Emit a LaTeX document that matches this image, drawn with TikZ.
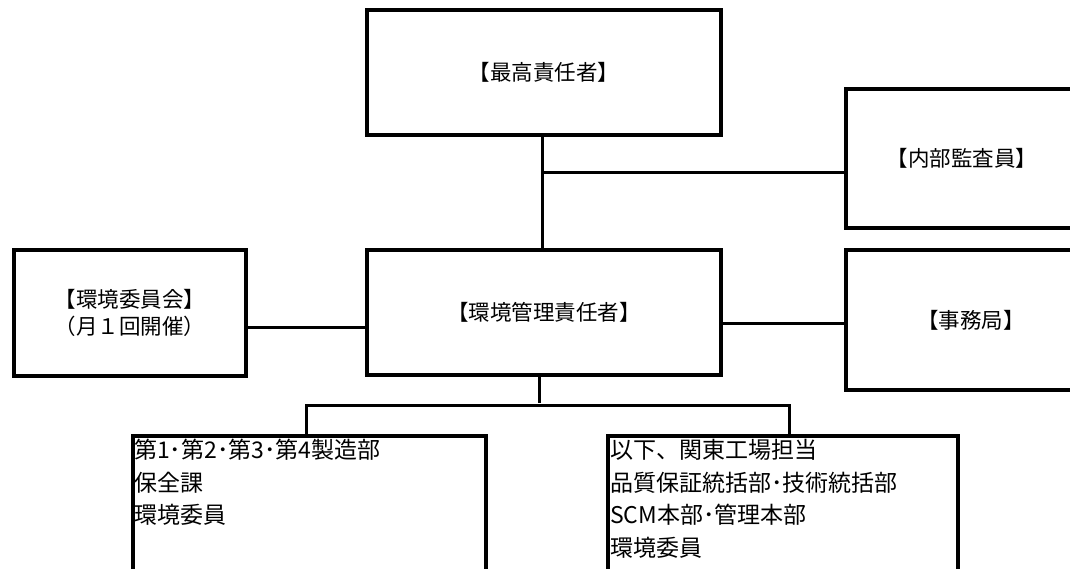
\documentclass[tikz,border=0pt]{standalone}
\usepackage{fontspec}
\setmainfont{Noto Sans CJK JP}
\begin{document}
\begin{tikzpicture}[x=1pt,y=-1pt,
  box/.style={draw, line width=4pt, inner sep=0pt, align=center,
    font=\fontsize{21.5}{27}\selectfont},
  btext/.style={anchor=north west, inner sep=0pt, align=left,
    font=\fontsize{23}{32.5}\selectfont},
  conn/.style={line width=3pt}]
\useasboundingbox (0,0) rectangle (1070,569);
\clip (0,0) rectangle (1070,569);
\fill[white] (0,0) rectangle (1070,569);
% boxes
\node[box, minimum width=354pt, minimum height=125pt] (top) at (544,72.5) {【最高責任者】};
\node[box, minimum width=354pt, minimum height=125pt] (mgr) at (544,312.5) {【環境管理責任者】};
\node[box, minimum width=232pt, minimum height=126pt] (iin) at (130,313) {【環境委員会】\\（月１回開催）};
\node[box, minimum width=232pt, minimum height=139pt, anchor=west] (audit) at (844,158.5) {【内部監査員】};
\node[box, minimum width=250pt, minimum height=140pt, anchor=west] (jimu) at (844,320) {【事務局】};
\node[draw, line width=4pt, minimum width=353pt, minimum height=200pt, anchor=north west] (bl) at (131,434) {};
\node[draw, line width=4pt, minimum width=350pt, minimum height=200pt, anchor=north west] (br) at (606,434) {};
% texts of bottom boxes
\node[btext] (blt) at ([shift={(3pt,-5pt)}]bl.north west) {第1･第2･第3･第4製造部\\保全課\\環境委員};
\node[btext] (brt) at ([shift={(4pt,-5pt)}]br.north west) {以下、関東工場担当\\品質保証統括部･技術統括部\\SCM本部･管理本部\\環境委員};
% connectors
\draw[conn] ([xshift=-2pt]top.south) -- ([xshift=-2pt]mgr.north);
\coordinate (ja) at (542,173);
\draw[conn] (ja) -- (ja -| audit.west);
\draw[conn] ([yshift=-14pt]iin.east) -- ([yshift=-14pt]iin.east -| mgr.west);
\draw[conn] ([yshift=-10.5pt]mgr.east) -- ([yshift=-10.5pt]mgr.east -| jimu.west);
\draw[conn] ([xshift=-4.5pt]mgr.south) -- ++(0,26);
\draw[conn] ([xshift=-3pt]bl.north) -- ++(0,-29) -| ([xshift=6pt]br.north);
\end{tikzpicture}
\end{document}
